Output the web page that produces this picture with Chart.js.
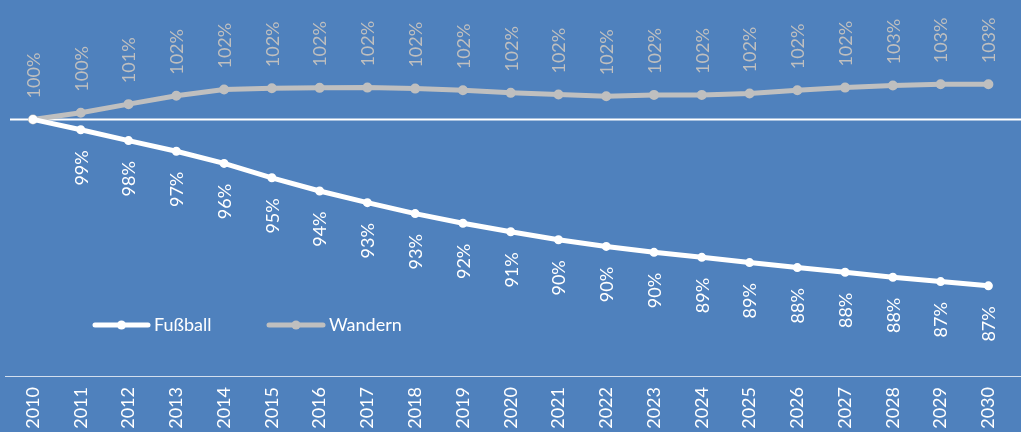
<!DOCTYPE html>
<html>
<head>
<meta charset="utf-8">
<script src="https://cdn.jsdelivr.net/npm/chart.js@4.4.1/dist/chart.umd.min.js"></script>
<style>
  html, body { margin: 0; padding: 0; background: #4F81BD; }
  #wrap { width: 1021px; height: 432px; position: relative; }
</style>
</head>
<body>
<div id="wrap"><canvas id="c"></canvas></div>
<script>
const years = ['2010','2011','2012','2013','2014','2015','2016','2017','2018','2019','2020',
               '2021','2022','2023','2024','2025','2026','2027','2028','2029','2030'];
const fussball = [100, 99.19, 98.35, 97.52, 96.57, 95.45, 94.42, 93.51, 92.66, 91.91, 91.24,
                  90.62, 90.10, 89.64, 89.25, 88.84, 88.45, 88.09, 87.70, 87.36, 87.03];
const wandern = [100, 100.52, 101.19, 101.84, 102.33, 102.43, 102.46, 102.48, 102.40, 102.27, 102.07,
                 101.94, 101.81, 101.91, 101.91, 102.02, 102.27, 102.48, 102.64, 102.74, 102.74];
const fussballLabels = ['', '99%','98%','97%','96%','95%','94%','93%','93%','92%','91%',
                        '90%','90%','90%','89%','89%','88%','88%','88%','87%','87%'];
const wandernLabels = ['100%','100%','101%','102%','102%','102%','102%','102%','102%','102%','102%',
                       '102%','102%','102%','102%','102%','102%','102%','103%','103%','103%'];
const seriesNames = ['Fußball', 'Wandern'];
const baseline = 100;

const FONT = 'Lato, "Liberation Sans", sans-serif';
const WHITE = '#FFFFFF';
const GREY = '#BFBFBF';

const bgPlugin = {
  id: 'bg',
  beforeDraw(chart) {
    const ctx = chart.ctx;
    ctx.save();
    ctx.fillStyle = '#4F81BD';
    ctx.fillRect(0, 0, chart.width, chart.height);
    ctx.restore();
  }
};

const linesPlugin = {
  id: 'refLines',
  beforeDatasetsDraw(chart) {
    const { ctx, chartArea, scales } = chart;
    const yy = scales.y.getPixelForValue(baseline);
    ctx.save();
    ctx.strokeStyle = WHITE;
    ctx.lineWidth = 2;
    ctx.beginPath();
    ctx.moveTo(10, yy);
    ctx.lineTo(chart.width, yy);
    ctx.stroke();
    ctx.strokeStyle = 'rgba(255,255,255,0.75)';
    ctx.lineWidth = 1;
    ctx.beginPath();
    ctx.moveTo(5, Math.round(chartArea.bottom) + 0.5);
    ctx.lineTo(chart.width, Math.round(chartArea.bottom) + 0.5);
    ctx.stroke();
    ctx.restore();
  }
};

const labelPlugin = {
  id: 'dataLabels',
  afterDatasetsDraw(chart) {
    const ctx = chart.ctx;
    const sets = [
      { labels: fussballLabels, color: WHITE, below: true },
      { labels: wandernLabels, color: GREY, below: false }
    ];
    ctx.save();
    ctx.font = '18px ' + FONT;
    ctx.textBaseline = 'middle';
    sets.forEach((s, i) => {
      const meta = chart.getDatasetMeta(i);
      meta.data.forEach((pt, j) => {
        const t = s.labels[j];
        if (!t) return;
        ctx.save();
        ctx.fillStyle = s.color;
        ctx.translate(pt.x + 1, pt.y + (s.below ? 20.5 : -21));
        ctx.rotate(-Math.PI / 2);
        ctx.textAlign = s.below ? 'right' : 'left';
        ctx.fillText(t, 0, 0);
        ctx.restore();
      });
    });
    ctx.restore();
  }
};

const legendPlugin = {
  id: 'customLegend',
  afterDraw(chart) {
    const ctx = chart.ctx;
    const items = [
      { name: seriesNames[0], color: WHITE, x0: 95, x1: 148 },
      { name: seriesNames[1], color: GREY, x0: 269, x1: 323 }
    ];
    const y = 325;
    ctx.save();
    items.forEach(it => {
      ctx.strokeStyle = it.color;
      ctx.lineWidth = 5;
      ctx.lineCap = 'round';
      ctx.beginPath();
      ctx.moveTo(it.x0, y);
      ctx.lineTo(it.x1, y);
      ctx.stroke();
      ctx.fillStyle = it.color;
      ctx.beginPath();
      ctx.arc((it.x0 + it.x1) / 2, y, 4.5, 0, Math.PI * 2);
      ctx.fill();
      ctx.fillStyle = WHITE;
      ctx.font = '18px ' + FONT;
      ctx.textAlign = 'left';
      ctx.textBaseline = 'middle';
      ctx.fillText(it.name, it.x1 + 6, y);
    });
    ctx.restore();
  }
};

new Chart(document.getElementById('c'), {
  type: 'line',
  data: {
    labels: years,
    datasets: [
      {
        label: seriesNames[0],
        data: fussball,
        borderColor: WHITE,
        backgroundColor: WHITE,
        borderWidth: 5,
        pointRadius: 3.5,
        pointBorderWidth: 2,
        pointBackgroundColor: WHITE,
        pointBorderColor: WHITE,
        tension: 0,
        clip: false
      },
      {
        label: seriesNames[1],
        data: wandern,
        borderColor: GREY,
        backgroundColor: GREY,
        borderWidth: 5,
        pointRadius: 4,
        pointBorderWidth: 2,
        pointBackgroundColor: GREY,
        pointBorderColor: GREY,
        tension: 0,
        clip: false
      }
    ]
  },
  options: {
    responsive: true,
    maintainAspectRatio: false,
    animation: false,
    layout: { padding: { left: 33, right: 21, top: 0, bottom: 0 } },
    plugins: {
      legend: { display: false },
      tooltip: { enabled: false }
    },
    scales: {
      x: {
        type: 'category',
        offset: false,
        grid: { display: false, drawTicks: false },
        border: { display: false },
        ticks: {
          color: WHITE,
          font: { family: FONT, size: 18 },
          minRotation: 90,
          maxRotation: 90,
          padding: 11,
          autoSkip: false
        },
        afterFit(scale) { scale.height = 56; }
      },
      y: {
        display: false,
        min: 80,
        max: 108.84
      }
    }
  },
  plugins: [bgPlugin, linesPlugin, labelPlugin, legendPlugin]
});
</script>
</body>
</html>
